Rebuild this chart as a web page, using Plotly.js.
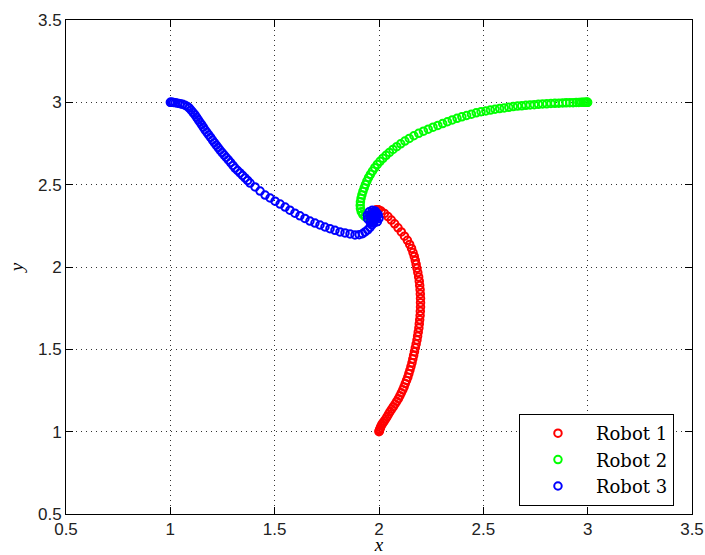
<!DOCTYPE html>
<html>
<head>
<meta charset="utf-8">
<script src="https://cdn.plot.ly/plotly-3.0.1.min.js"></script>
<style>
  html, body { margin: 0; padding: 0; background: #ffffff; }
  #chart { width: 705px; height: 555px; }
</style>
</head>
<body>
<div id="chart"></div>
<script>
// Robot 1 (red) trajectory
const robot1X = [2.000,2.001,2.002,2.004,2.007,2.010,2.014,2.019,2.025,2.032,2.039,2.046,2.053,2.061,2.069,2.077,2.085,2.093,2.100,2.107,2.114,2.120,2.126,2.132,2.138,2.143,2.148,2.153,2.158,2.162,2.166,2.170,2.174,2.178,2.182,2.185,2.188,2.191,2.193,2.195,2.197,2.198,2.199,2.199,2.199,2.198,2.197,2.195,2.193,2.190,2.186,2.182,2.178,2.174,2.169,2.163,2.156,2.147,2.136,2.122,2.107,2.091,2.075,2.059,2.043,2.026,2.010,1.997,1.987,1.980,1.975,1.972];
const robot1Y = [1.000,1.003,1.008,1.015,1.024,1.034,1.044,1.053,1.064,1.077,1.092,1.107,1.122,1.137,1.152,1.168,1.184,1.200,1.218,1.236,1.254,1.272,1.292,1.311,1.331,1.352,1.373,1.395,1.418,1.441,1.463,1.486,1.509,1.532,1.556,1.580,1.604,1.629,1.654,1.679,1.705,1.731,1.757,1.783,1.809,1.836,1.862,1.888,1.914,1.940,1.966,1.992,2.016,2.040,2.064,2.088,2.113,2.137,2.162,2.187,2.213,2.238,2.262,2.285,2.306,2.325,2.340,2.348,2.347,2.340,2.330,2.320];

// Robot 2 (green) trajectory
const robot2X = [3.000,2.998,2.994,2.988,2.980,2.970,2.958,2.945,2.930,2.914,2.897,2.880,2.862,2.843,2.824,2.804,2.784,2.764,2.744,2.724,2.704,2.684,2.664,2.643,2.622,2.600,2.578,2.556,2.534,2.512,2.489,2.466,2.443,2.420,2.397,2.374,2.351,2.328,2.305,2.282,2.259,2.236,2.213,2.190,2.167,2.145,2.124,2.104,2.085,2.067,2.050,2.034,2.019,2.005,1.992,1.980,1.969,1.959,1.950,1.942,1.935,1.929,1.923,1.918,1.914,1.911,1.910,1.911,1.915,1.922,1.932,1.943,1.954,1.963,1.968];
const robot2Y = [3.000,3.000,3.000,3.000,3.000,3.000,2.999,2.999,2.998,2.998,2.997,2.996,2.995,2.994,2.993,2.991,2.990,2.988,2.986,2.984,2.982,2.979,2.977,2.974,2.970,2.966,2.962,2.958,2.953,2.948,2.943,2.936,2.928,2.920,2.912,2.903,2.893,2.882,2.871,2.860,2.849,2.837,2.825,2.812,2.797,2.781,2.765,2.748,2.731,2.714,2.696,2.678,2.660,2.642,2.623,2.603,2.583,2.563,2.543,2.522,2.501,2.480,2.459,2.438,2.417,2.396,2.375,2.355,2.336,2.320,2.308,2.300,2.296,2.298,2.305];

// Robot 3 (blue) trajectory
const robot3X = [1.000,1.003,1.008,1.015,1.024,1.035,1.047,1.059,1.070,1.081,1.091,1.100,1.109,1.118,1.126,1.134,1.142,1.150,1.158,1.166,1.175,1.184,1.193,1.202,1.211,1.220,1.229,1.238,1.248,1.258,1.268,1.278,1.289,1.300,1.310,1.322,1.334,1.346,1.358,1.370,1.382,1.406,1.430,1.454,1.478,1.502,1.526,1.550,1.573,1.597,1.621,1.645,1.669,1.693,1.717,1.741,1.765,1.789,1.813,1.837,1.861,1.885,1.905,1.921,1.933,1.946,1.957,1.966,1.973,1.978,1.981,1.990,1.982,1.968,1.953,1.944,1.946,1.958,1.975,1.992,2.000,1.996,1.984,1.968,1.958,1.960,1.972,1.985,1.986,1.975,1.970,1.976];
const robot3Y = [3.000,3.000,3.000,2.999,2.998,2.995,2.992,2.988,2.983,2.975,2.965,2.952,2.938,2.924,2.909,2.894,2.879,2.864,2.849,2.833,2.818,2.802,2.787,2.771,2.755,2.740,2.725,2.710,2.695,2.680,2.665,2.650,2.634,2.617,2.601,2.586,2.571,2.556,2.541,2.526,2.510,2.486,2.461,2.437,2.419,2.400,2.382,2.364,2.345,2.327,2.311,2.295,2.279,2.267,2.255,2.243,2.233,2.223,2.213,2.207,2.201,2.195,2.196,2.202,2.213,2.225,2.240,2.256,2.272,2.288,2.304,2.325,2.340,2.345,2.335,2.315,2.292,2.272,2.266,2.275,2.295,2.318,2.330,2.328,2.312,2.295,2.285,2.292,2.308,2.315,2.302,2.300];

const seriesNames = ["Robot 1", "Robot 2", "Robot 3"];
const seriesColors = ["#ff0000", "#00ff00", "#0000ff"];
const tickVals = [0.5, 1, 1.5, 2, 2.5, 3, 3.5];

const xs = [robot1X, robot2X, robot3X];
const ys = [robot1Y, robot2Y, robot3Y];

const traces = seriesNames.map((name, i) => ({
  type: "scatter",
  mode: "markers",
  name: name,
  x: xs[i],
  y: ys[i],
  marker: {
    symbol: "circle-open",
    size: 7.5,
    color: seriesColors[i],
    line: { color: seriesColors[i], width: 2 }
  },
  hoverinfo: "x+y+name"
}));

const axisCommon = {
  range: [0.5, 3.5],
  tickvals: tickVals,
  ticks: "inside",
  ticklen: 7,
  tickwidth: 1,
  tickcolor: "#000",
  showline: true,
  linecolor: "#000",
  linewidth: 1,
  mirror: "ticks",
  showgrid: true,
  gridcolor: "#333",
  gridwidth: 1,
  griddash: "1px,4px",
  zeroline: false,
  tickfont: { family: "Liberation Sans, Arial, sans-serif", size: 17, color: "#222" },
  fixedrange: true
};

const layout = {
  width: 705,
  height: 555,
  margin: { l: 66, r: 13, t: 20, b: 41 },
  paper_bgcolor: "#ffffff",
  plot_bgcolor: "#ffffff",
  showlegend: true,
  xaxis: Object.assign({}, axisCommon, {
    title: { text: "x", font: { family: "Liberation Serif, serif", size: 19, color: "#000", style: "italic" }, standoff: 6 }
  }),
  yaxis: Object.assign({}, axisCommon, {
    title: { text: "y", font: { family: "Liberation Serif, serif", size: 19, color: "#000", style: "italic" }, standoff: 9 }
  }),
  legend: {
    x: 0.9712,
    y: 0.0162,
    xanchor: "right",
    yanchor: "bottom",
    bgcolor: "#ffffff",
    bordercolor: "#000",
    borderwidth: 1,
    itemwidth: 66,
    font: { family: "DejaVu Serif, serif", size: 18, color: "#000" }
  }
};

Plotly.newPlot("chart", traces, layout, { displayModeBar: false, staticPlot: true });
</script>
</body>
</html>
